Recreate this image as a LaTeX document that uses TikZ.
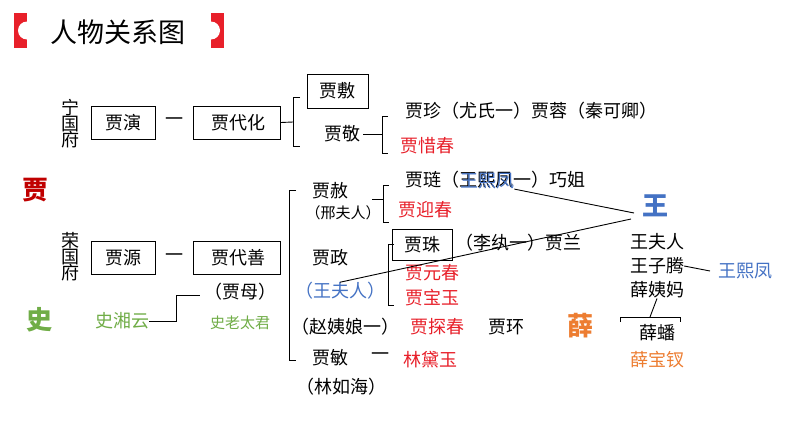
\documentclass[tikz,border=0pt]{standalone}
\usepackage{fontspec}
\setmainfont{Noto Sans CJK SC}
\definecolor{cred}{HTML}{E8202A}
\definecolor{dred}{HTML}{C00000}
\definecolor{cblue}{HTML}{4472C4}
\definecolor{cgreen}{HTML}{70AD47}
\definecolor{corange}{HTML}{ED7D31}
\tikzset{
  t/.style={inner sep=0pt,font=\fontsize{18}{18}\selectfont},
  ts/.style={inner sep=0pt,font=\fontsize{15}{15}\selectfont},
  big/.style={inner sep=0pt,font=\fontsize{26}{26}\selectfont\bfseries},
  bx/.style={draw,line width=0.8pt,minimum height=33pt,inner sep=2pt,font=\fontsize{18}{18}\selectfont},
  ln/.style={line width=0.9pt},
}
\begin{document}
\begin{tikzpicture}[x=1pt,y=-1pt]
\useasboundingbox[fill=white] (0,0) rectangle (794,447);
% title
\fill[cred] (14,13) rectangle (27,48);
\fill[white] (27,30.5) circle (9);
\fill[cred] (211,13) rectangle (224,48);
\fill[white] (211,30.5) circle (9);
\node[inner sep=0pt,font=\fontsize{27}{27}\selectfont] (title) at (118,32) {人物关系图};
% Ning guo fu
\node[t,align=center] (ngf) at (70,124) {宁\\[-2pt]国\\[-2pt]府};
\node[bx,minimum width=64pt] (jy) at (123,122.5) {贾演};
\node[t] (d1) at (174,122) {一};
\node[bx,minimum width=87pt,anchor=west] (jdh) at (193,122.5) {\,贾代化};
\draw[ln] (jdh.east) -- (293,122);
\draw[ln] (300,97) -- (293,97) -- (293,146) -- (300,146);
\node[bx,minimum width=61pt,minimum height=34pt] (jf) at (337.5,91) {贾敷};
\node[t] (jj) at (342,134) {贾敬};
\draw[ln] ([xshift=3pt]jj.east) -- (382,134);
\draw[ln] (388,116) -- (382,116) -- (382,153) -- (388,153);
\node[t,anchor=west] (jz) at (405,111) {贾珍（尤氏一）贾蓉（秦可卿）};
\node[t,anchor=west,text=cred] (jxc) at (400,146) {贾惜春};
% Jia
\node[big,text=dred] (jia) at (35,190) {贾};
% Rong guo fu
\node[t,align=center] (rgf) at (70,257) {荣\\[-2pt]国\\[-2pt]府};
\node[bx,minimum width=64pt] (jyuan) at (123,258) {贾源};
\node[t] (d2) at (174,258) {一};
\node[bx,minimum width=87pt,anchor=west] (jds) at (193,258) {\,贾代善};
\draw[ln] (296,190) -- (289,190) -- (289,360) -- (296,360);
\node[t] (jm) at (240,292) {（贾母）};
\node[ts,text=cgreen] (slt) at (240,323) {史老太君};
\node[t,text=cgreen] (sxy) at (122,321) {史湘云};
\draw[ln] (sxy.east) -- (176,321) -- (176,295) -- (200,295);
\node[big,text=cgreen] (shi) at (40,320) {史};
% Jia She
\node[t] (jshe) at (330,191) {贾赦};
\node[ts] (xfr) at (343,213) {（邢夫人）};
\draw[ln] (389,185) -- (383,185) -- (383,222) -- (389,222);
\draw[ln] (372,199) -- (383,199);
\node[t,anchor=west] (jl) at (405,180) {贾琏（王熙凤一）巧姐};
\node[t,text=cblue,anchor=west] (wxf1) at (460,181) {王熙凤};
\node[t,anchor=west,text=cred] (jyc) at (398,210) {贾迎春};
% Jia Zheng
\node[t] (jzh) at (330,258) {贾政};
\node[t,text=cblue] (wfr) at (340,291) {（王夫人）};
\draw[ln] (394,244) -- (388,244) -- (388,305) -- (394,305);
\node[bx,minimum width=60pt,minimum height=31pt,anchor=west] (jzhu) at (392,244.5) {贾珠};
\node[t,anchor=west] (lw) at (455,243) {（李纨一）贾兰};
\node[t,anchor=west,text=cred] (jyuanc) at (405,273) {贾元春};
\node[t,anchor=west,text=cred] (jby) at (405,298) {贾宝玉};
\node[t] (zyn) at (345,327) {（赵姨娘一）};
\node[t,anchor=west,text=cred] (jtc) at (410,327) {贾探春};
\node[t,anchor=west] (jh) at (488,327) {贾环};
\node[t] (jmin) at (330,358) {贾敏};
\node[t] (d3) at (380,357) {一};
\node[t,anchor=west,text=cred] (ldy) at (403,360) {林黛玉};
\node[t] (lrh) at (341,387) {（林如海）};
% Wang
\node[big,text=cblue] (wang) at (655,206) {王};
\coordinate (wl) at (634,213);
\coordinate (wl2) at (631,219);
\draw[ln] (wxf1.south east) -- (wl);
\draw[ln] (wfr.north) -- (wl2);
\node[t] (wfr2) at (657,242) {王夫人};
\node[t] (wzt) at (657,266) {王子腾};
\node[t] (xym) at (657,290) {薛姨妈};
\draw[ln] (wzt.east) -- (710,271);
\node[t,text=cblue,anchor=west] (wxf2) at (718,271) {王熙凤};
% Xue
\node[big,text=corange] (xue) at (580,326) {薛};
\draw[ln] (620,322) -- (620,317) -- (680,317) -- (680,322);
\draw[ln] (650,317) -- (xym.south);
\node[t] (xp) at (657,333) {薛蟠};
\node[t,text=corange] (xbc) at (657,360) {薛宝钗};
\end{tikzpicture}
\end{document}
